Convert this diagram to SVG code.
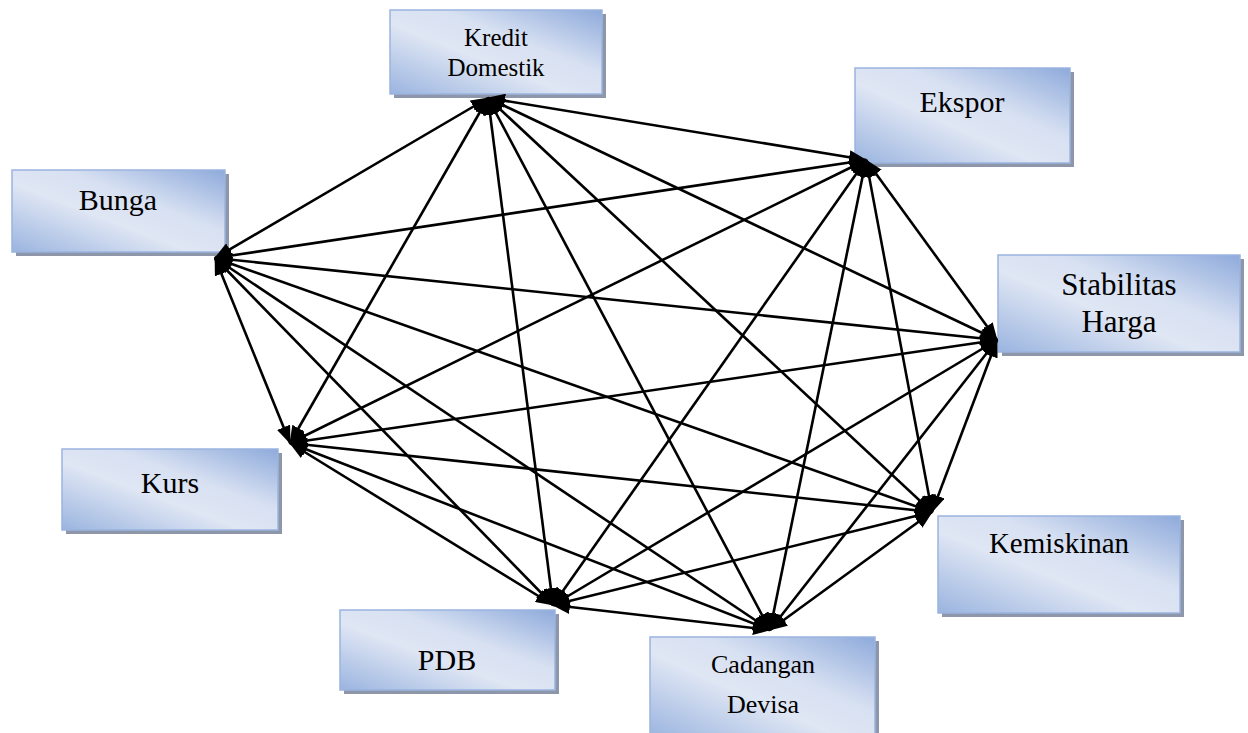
<svg xmlns="http://www.w3.org/2000/svg" width="1248" height="733" viewBox="0 0 1248 733">
  <style>
    .box { fill: url(#boxFill); stroke: #9bb4df; stroke-width: 1.5; }
    .shadow { fill: #8e97a9; }
    .label { fill: #000; text-anchor: middle; }
    .link { stroke: #000; stroke-width: 2.6; fill: none; marker-start: url(#head); marker-end: url(#head); }
  </style>
  <defs>
    <linearGradient id="boxFill" x1="0" y1="1" x2="1" y2="0">
      <stop offset="0" stop-color="#9ab4df"/>
      <stop offset="0.42" stop-color="#dfe6f4"/>
      <stop offset="0.62" stop-color="#d8e1f2"/>
      <stop offset="1" stop-color="#8eaadb"/>
    </linearGradient>
    <marker id="head" viewBox="0 0 18 14" refX="17" refY="7" markerWidth="18" markerHeight="14" markerUnits="userSpaceOnUse" orient="auto-start-reverse">
      <path d="M0,0 L18,7 L0,14 z" fill="#000"/>
    </marker>
  </defs>

  <rect width="1248" height="733" fill="#fff"/>

  <g font-family="Liberation Serif">
  <g id="kredit-domestik">
    <rect class="shadow" x="394" y="14" width="212" height="84"/>
    <rect class="box" x="390" y="10" width="212" height="84"/>
    <text class="label" x="496" y="46" font-size="25">Kredit</text>
    <text class="label" x="496" y="76" font-size="25">Domestik</text>
  </g>

  <g id="ekspor">
    <rect class="shadow" x="859" y="72" width="215" height="95"/>
    <rect class="box" x="855" y="68" width="215" height="95"/>
    <text class="label" x="962" y="112" font-size="30">Ekspor</text>
  </g>

  <g id="bunga">
    <rect class="shadow" x="16" y="174" width="213" height="82"/>
    <rect class="box" x="12" y="170" width="213" height="82"/>
    <text class="label" x="118" y="210" font-size="30">Bunga</text>
  </g>

  <g id="stabilitas-harga">
    <rect class="shadow" x="1002" y="259" width="242" height="97"/>
    <rect class="box" x="998" y="255" width="242" height="97"/>
    <text class="label" x="1119" y="295" font-size="31">Stabilitas</text>
    <text class="label" x="1119" y="332" font-size="31">Harga</text>
  </g>

  <g id="kurs">
    <rect class="shadow" x="66" y="453" width="216" height="81"/>
    <rect class="box" x="62" y="449" width="216" height="81"/>
    <text class="label" x="170" y="493" font-size="30">Kurs</text>
  </g>

  <g id="kemiskinan">
    <rect class="shadow" x="942" y="520" width="242" height="97"/>
    <rect class="box" x="938" y="516" width="242" height="97"/>
    <text class="label" x="1059" y="553" font-size="29">Kemiskinan</text>
  </g>

  <g id="pdb">
    <rect class="shadow" x="344" y="614" width="215" height="80"/>
    <rect class="box" x="340" y="610" width="215" height="80"/>
    <text class="label" x="447" y="670" font-size="30">PDB</text>
  </g>

  <g id="cadangan-devisa">
    <rect class="shadow" x="654" y="641" width="225" height="100"/>
    <rect class="box" x="650" y="637" width="225" height="100"/>
    <text class="label" x="763" y="673" font-size="26">Cadangan</text>
    <text class="label" x="763" y="713" font-size="26">Devisa</text>
  </g>
  </g>

  <!-- every pair of variables is linked both ways -->
  <g id="connectors">
    <!-- Kredit Domestik -->
    <line class="link" x1="488" y1="98" x2="866" y2="160"/>
    <line class="link" x1="488" y1="98" x2="215" y2="258"/>
    <line class="link" x1="488" y1="98" x2="997" y2="340"/>
    <line class="link" x1="488" y1="98" x2="290" y2="443"/>
    <line class="link" x1="488" y1="98" x2="932" y2="512"/>
    <line class="link" x1="488" y1="98" x2="553" y2="605"/>
    <line class="link" x1="488" y1="98" x2="770" y2="630"/>
    <!-- Ekspor -->
    <line class="link" x1="866" y1="160" x2="215" y2="258"/>
    <line class="link" x1="866" y1="160" x2="997" y2="340"/>
    <line class="link" x1="866" y1="160" x2="290" y2="443"/>
    <line class="link" x1="866" y1="160" x2="932" y2="512"/>
    <line class="link" x1="866" y1="160" x2="553" y2="605"/>
    <line class="link" x1="866" y1="160" x2="770" y2="630"/>
    <!-- Bunga -->
    <line class="link" x1="215" y1="258" x2="997" y2="340"/>
    <line class="link" x1="215" y1="258" x2="290" y2="443"/>
    <line class="link" x1="215" y1="258" x2="932" y2="512"/>
    <line class="link" x1="215" y1="258" x2="553" y2="605"/>
    <line class="link" x1="215" y1="258" x2="770" y2="630"/>
    <!-- Stabilitas Harga -->
    <line class="link" x1="997" y1="340" x2="290" y2="443"/>
    <line class="link" x1="997" y1="340" x2="932" y2="512"/>
    <line class="link" x1="997" y1="340" x2="553" y2="605"/>
    <line class="link" x1="997" y1="340" x2="770" y2="630"/>
    <!-- Kurs -->
    <line class="link" x1="290" y1="443" x2="932" y2="512"/>
    <line class="link" x1="290" y1="443" x2="553" y2="605"/>
    <line class="link" x1="290" y1="443" x2="770" y2="630"/>
    <!-- Kemiskinan -->
    <line class="link" x1="932" y1="512" x2="553" y2="605"/>
    <line class="link" x1="932" y1="512" x2="770" y2="630"/>
    <!-- PDB -->
    <line class="link" x1="553" y1="605" x2="770" y2="630"/>
  </g>
</svg>
